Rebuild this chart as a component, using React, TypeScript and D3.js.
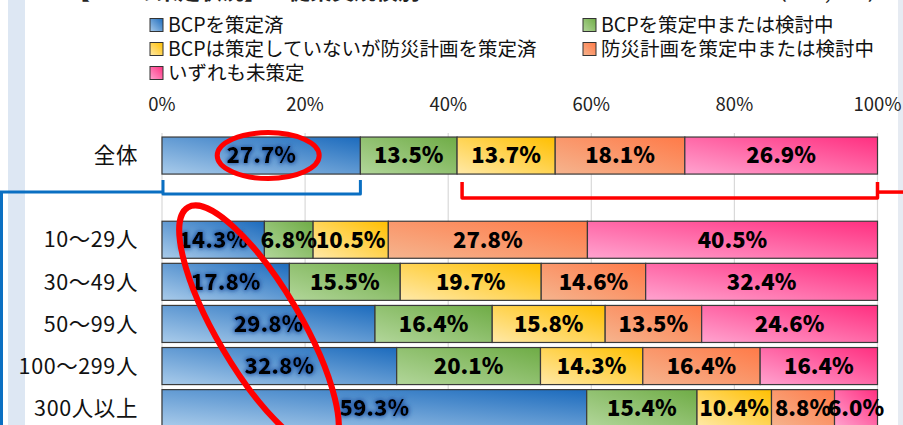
import React from "react";
import * as d3 from "d3";

const categories = ["全体", "", "10～29人", "30～49人", "50～99人", "100～299人", "300人以上"];
const seriesNames = [
  "BCPを策定済",
  "BCPを策定中または検討中",
  "BCPは策定していないが防災計画を策定済",
  "防災計画を策定中または検討中",
  "いずれも未策定",
];
const s1 = [27.7, null, 14.3, 17.8, 29.8, 32.8, 59.3];
const s2 = [13.5, null, 6.8, 15.5, 16.4, 20.1, 15.4];
const s3 = [13.7, null, 10.5, 19.7, 15.8, 14.3, 10.4];
const s4 = [18.1, null, 27.8, 14.6, 13.5, 16.4, 8.8];
const s5 = [26.9, null, 40.5, 32.4, 24.6, 16.4, 6.0];
const ticks = [0, 20, 40, 60, 80, 100];

const seriesValues = [s1, s2, s3, s4, s5];
const gradStops = [
  ["#a9cbea", "#1c6bbd"],
  ["#b2d69a", "#6fac46"],
  ["#ffe9a8", "#ffbf00"],
  ["#f5b48e", "#ff7a48"],
  ["#ffa3cf", "#ff2f80"],
];

const FONT = "'Noto Sans CJK JP', 'Noto Sans', sans-serif";

export default function App() {
  const x = d3.scaleLinear().domain([0, 100]).range([162, 877.5]);
  const y = d3
    .scaleBand<string>()
    .domain(categories.map((c, i) => i + ":" + c))
    .range([134.5, 429.2])
    .paddingInner(0.12)
    .paddingOuter(0.06);

  const rows = categories.map((c, i) => {
    const vals = seriesValues.map((s) => s[i]);
    if (vals[0] == null) return null;
    const total = d3.sum(vals as number[]);
    let acc = 0;
    const segs = (vals as number[]).map((v, k) => {
      const start = (acc / total) * 100;
      acc += v;
      const end = (acc / total) * 100;
      return { k, v, start, end };
    });
    return { c, key: i + ":" + c, segs };
  });

  const bw = y.bandwidth();
  const zen = rows[0]!;
  const zy = y(zen.key)!;

  const blueL = x(zen.segs[0].start) + 1;
  const blueR = x(zen.segs[0].end);
  const redL = x(zen.segs[2].start) + 5;
  const redR = x(100);

  const ell1x = x(zen.segs[0].start + (zen.segs[0].end - zen.segs[0].start) / 2) + 7;

  return (
    <svg
      width={903}
      height={425}
      style={{ position: "absolute", left: 0, top: 0, background: "#fff" }}
      fontFamily={FONT}
    >
      <defs>
        {gradStops.map((g, i) => (
          <linearGradient key={i} id={"g" + i} x1="0" y1="1" x2="1" y2="0">
            <stop offset="0" stopColor={g[0]} />
            <stop offset="1" stopColor={g[1]} />
          </linearGradient>
        ))}
        <filter id="glow" x="-20%" y="-60%" width="140%" height="220%">
          <feMorphology in="SourceAlpha" operator="dilate" radius="1" result="d" />
          <feGaussianBlur in="d" stdDeviation="2.2" result="b" />
          <feFlood floodColor="#2a5ea8" floodOpacity="1" />
          <feComposite in2="b" operator="in" result="gl" />
          <feMerge>
            <feMergeNode in="gl" />
            <feMergeNode in="SourceGraphic" />
          </feMerge>
        </filter>
      </defs>

      <rect x={8} y={0} width={17} height={425} fill="#dde7f3" />
      <rect x={898} y={0} width={5} height={425} fill="#e6ebf2" />

      <text x={68} y={-1} fontSize={22} fontWeight={700} fill="#222">
        【BCPの策定状況】－従業員規模別－
      </text>
      <text x={765} y={-1} fontSize={22} fill="#222">
        （n=1,234）
      </text>

      {seriesNames.map((n, i) => {
        const col = i % 2;
        const row = Math.floor(i / 2);
        const lx = col === 0 ? 150 : 583;
        const ly = 25 + row * 24;
        return (
          <g key={n}>
            <rect x={lx} y={ly - 6.5} width={13} height={13} fill={`url(#g${i})`} stroke="#333" strokeWidth={1} />
            <text x={lx + 18} y={ly} dy="0.35em" fontSize={19.5} fill="#111">
              {n}
            </text>
          </g>
        );
      })}

      {ticks.map((t) => (
        <line key={t} x1={x(t)} x2={x(t)} y1={133} y2={425} stroke="#d9d9d9" strokeWidth={1.2} />
      ))}
      {ticks.map((t) => (
        <text key={"t" + t} x={x(t)} y={105} dy="0.35em" textAnchor="middle" fontSize={18.5} fill="#222">
          {t}%
        </text>
      ))}

      {categories.map((c, i) =>
        c ? (
          <text
            key={"c" + i}
            x={138}
            y={y(i + ":" + c)! + bw / 2}
            dy="0.36em"
            textAnchor="end"
            fontSize={21.5}
            letterSpacing={0.6}
            fill="#111"
          >
            {c}
          </text>
        ) : null
      )}

      {rows.map((r) =>
        r ? (
          <g key={r.key}>
            {r.segs.map((s) => (
              <rect
                key={s.k}
                x={x(s.start)}
                y={y(r.key)}
                width={x(s.end) - x(s.start)}
                height={bw}
                fill={`url(#g${s.k})`}
                stroke="#3a3a3a"
                strokeWidth={1.2}
              />
            ))}
          </g>
        ) : null
      )}
      {rows.map((r) =>
        r ? (
          <g key={"l" + r.key}>
            {r.segs.map((s) => (
              <text
                key={s.k}
                x={(x(s.start) + x(s.end)) / 2}
                y={y(r.key)! + bw / 2}
                dy="0.36em"
                textAnchor="middle"
                fontSize={22}
                fontWeight={800}
                fill="#000"
                filter={s.k === 0 ? "url(#glow)" : undefined}
              >
                {s.v.toFixed(1)}%
              </text>
            ))}
          </g>
        ) : null
      )}

      <path
        d={`M${blueL},${zy + bw + 6} L${blueL},${zy + bw + 20} L${blueR},${zy + bw + 20} L${blueR},${zy + bw + 6}`}
        fill="none"
        stroke="#0a6fc2"
        strokeWidth={3}
        strokeLinejoin="round"
      />
      <path d={`M${blueL},${zy + bw + 18} L1.5,${zy + bw + 18} L1.5,425`} fill="none" stroke="#0a6fc2" strokeWidth={3} />

      <path
        d={`M${redL},${zy + bw + 8} L${redL},${zy + bw + 24} L${redR},${zy + bw + 24} L${redR},${zy + bw + 8}`}
        fill="none"
        stroke="#ff0000"
        strokeWidth={3.5}
        strokeLinejoin="round"
      />
      <path d={`M${redR},${zy + bw + 18} L903,${zy + bw + 18}`} fill="none" stroke="#ff0000" strokeWidth={3.5} />

      <ellipse cx={ell1x} cy={zy + bw / 2} rx={51} ry={23} fill="none" stroke="#ff0000" strokeWidth={5} />
      <ellipse
        cx={0}
        cy={0}
        rx={140}
        ry={42}
        fill="none"
        stroke="#ff0000"
        strokeWidth={6}
        transform="translate(259,328) rotate(59.5)"
      />
    </svg>
  );
}
